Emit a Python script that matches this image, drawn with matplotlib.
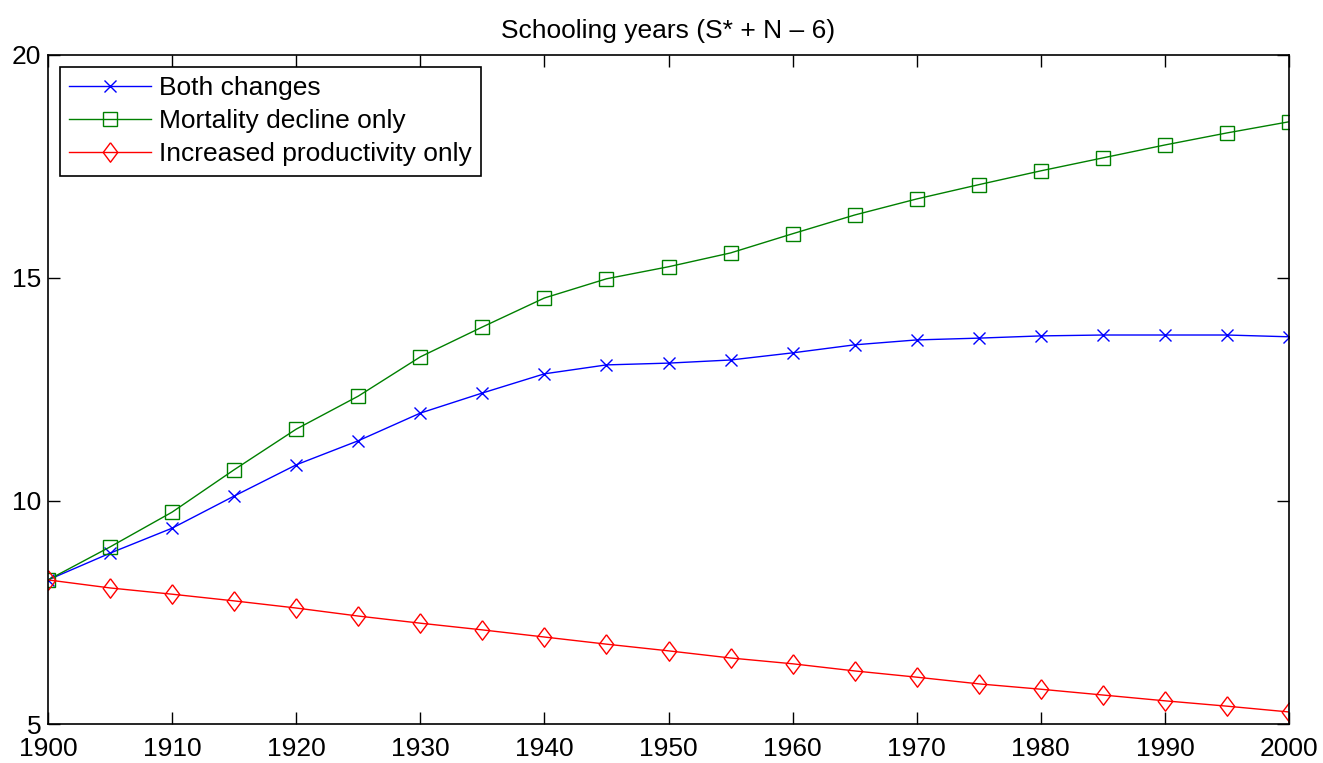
import matplotlib.pyplot as plt

# Years and schooling series
years = list(range(1900, 2001, 5))

both = [8.23, 8.83, 9.39, 10.11, 10.81, 11.35, 11.97, 12.42, 12.85, 13.05,
        13.09, 13.16, 13.32, 13.50, 13.61, 13.65, 13.70, 13.72, 13.72, 13.72, 13.68]
mortality = [8.23, 8.97, 9.75, 10.70, 11.61, 12.35, 13.23, 13.90, 14.55, 14.98,
             15.25, 15.56, 15.99, 16.41, 16.77, 17.09, 17.40, 17.69, 17.98, 18.25, 18.50]
productivity = [8.23, 8.05, 7.91, 7.76, 7.60, 7.42, 7.26, 7.11, 6.95, 6.79,
                6.64, 6.48, 6.35, 6.19, 6.05, 5.90, 5.78, 5.65, 5.52, 5.40, 5.27]

plt.rcParams['font.family'] = ['Liberation Sans', 'DejaVu Sans']
plt.rcParams['font.size'] = 19

# MATLAB-style diamond (taller than wide)
diamond = [(0, 1), (0.75, 0), (0, -1), (-0.75, 0), (0, 1)]

fig = plt.figure(figsize=(13.23, 7.63), dpi=100)
ax = fig.add_axes([0.0363, 0.0511, 0.938, 0.877])

ax.plot(years, both, color='#0000ff', marker='x', markersize=9, linewidth=1,
        label='Both changes')
ax.plot(years, mortality, color='#008000', marker='s', markersize=10, linewidth=1,
        fillstyle='none', label='Mortality decline only')
ax.plot(years, productivity, color='#ff0000', marker=diamond, markersize=14,
        linewidth=1, markerfacecolor='none', label='Increased productivity only')

ax.set_xlim(1900, 2000)
ax.set_ylim(5, 20)
ax.set_xticks(range(1900, 2001, 10))
ax.set_yticks([5, 10, 15, 20])
ax.tick_params(direction='in', top=True, right=True, length=8.5, width=1,
               labelsize=19)
ax.tick_params(axis='x', pad=9)
ax.tick_params(axis='y', pad=5)
for s in ax.spines.values():
    s.set_linewidth(1.2)
ax.set_title('Schooling years (S* + N \u2013 6)', fontsize=19, pad=12)

leg = ax.legend(loc='upper left', fancybox=False, edgecolor='black', framealpha=1,
                fontsize=19, borderaxespad=0.45, handlelength=3.1,
                borderpad=0.35, labelspacing=0.35, handletextpad=0.3)
leg.get_frame().set_linewidth(1.2)

plt.savefig('out.png', dpi=100)
